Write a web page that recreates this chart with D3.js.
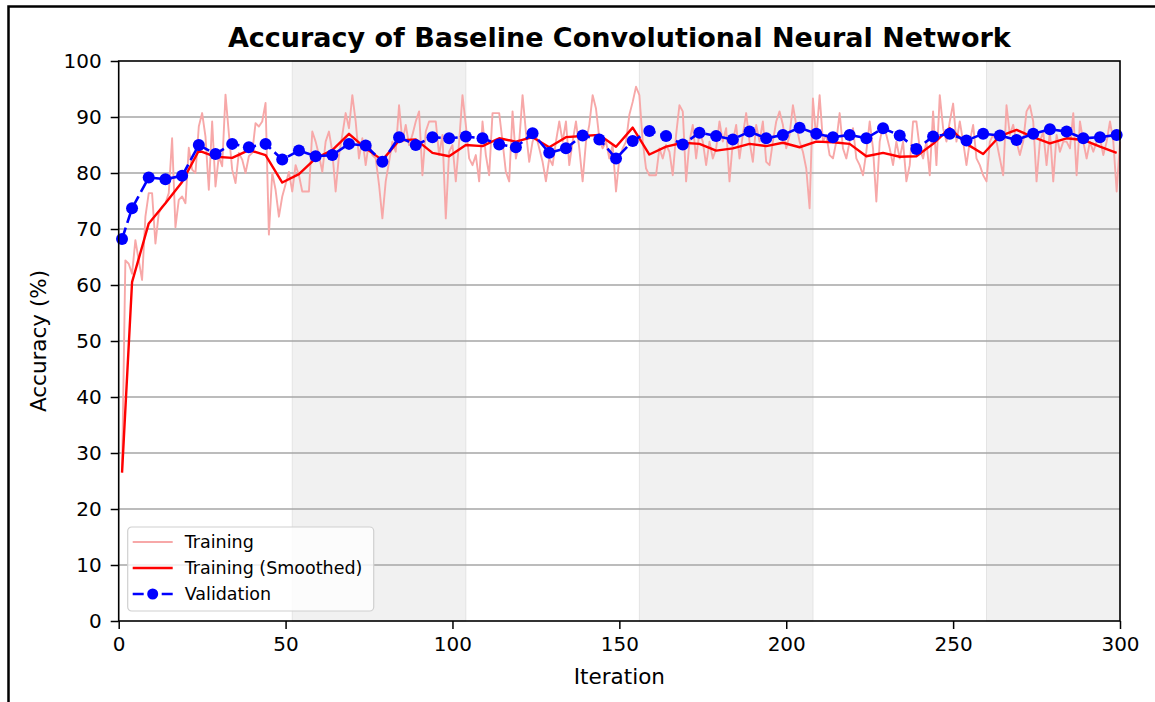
<!DOCTYPE html>
<html>
<head>
<meta charset="utf-8">
<script src="https://cdn.jsdelivr.net/npm/d3@7"></script>
<style>
  body { margin: 0; background: #fff; }
  text { font-family: "DejaVu Sans", sans-serif; }
</style>
</head>
<body>
<div id="chart"></div>
<script>
// Raw training accuracy, one value per iteration (1..300)
var trainAcc = [
  26.5, 64.4, 63.8, 62.0, 68.0, 64.4, 60.9, 72.2, 76.4, 76.4,
  67.4, 72.8, 74.0, 74.6, 76.4, 86.2, 70.3, 75.2, 75.8, 74.6,
  84.5, 80.6, 80.0, 88.3, 90.7, 86.5, 77.0, 89.2, 77.6, 83.0,
  81.2, 94.0, 87.1, 80.6, 78.2, 83.6, 82.4, 80.0, 83.0, 83.6,
  88.9, 88.3, 89.2, 92.5, 69.0, 80.0, 77.0, 72.2, 75.8, 78.0,
  80.2, 76.7, 81.4, 79.6, 76.7, 76.7, 76.7, 87.4, 85.6, 83.2,
  80.2, 85.6, 87.4, 83.8, 76.7, 83.2, 86.8, 90.7, 88.0, 93.9,
  89.2, 82.6, 86.2, 81.4, 85.6, 83.2, 82.6, 77.9, 71.9, 78.5,
  82.0, 85.6, 83.8, 92.1, 85.6, 88.6, 85.0, 86.8, 89.2, 91.0,
  79.6, 87.4, 89.2, 89.2, 89.2, 83.2, 86.8, 71.9, 83.8, 85.0,
  78.5, 85.6, 93.9, 88.6, 82.6, 81.4, 83.2, 78.5, 89.2, 83.2,
  79.6, 90.7, 90.7, 90.7, 85.6, 80.2, 78.5, 91.0, 82.6, 85.6,
  93.9, 87.4, 82.0, 85.6, 86.8, 84.4, 82.0, 78.5, 82.6, 81.4,
  85.6, 89.2, 85.6, 89.2, 81.4, 85.6, 89.2, 84.4, 78.5, 85.6,
  88.6, 93.9, 91.5, 86.2, 84.4, 85.6, 82.6, 85.0, 76.7, 82.6,
  84.4, 85.6, 90.4, 92.7, 95.4, 93.9, 85.6, 80.8, 79.6, 79.6,
  79.6, 84.4, 82.6, 85.0, 83.8, 79.6, 86.8, 92.1, 91.0, 78.5,
  85.6, 88.6, 82.6, 87.4, 85.6, 81.4, 85.6, 82.6, 84.4, 89.2,
  85.6, 88.0, 78.5, 85.6, 88.6, 82.6, 86.8, 90.7, 85.6, 82.0,
  88.6, 85.6, 89.2, 82.0, 81.4, 85.6, 89.2, 91.0, 88.6, 84.4,
  86.8, 92.1, 88.6, 85.6, 83.8, 80.8, 73.7, 93.3, 86.0, 93.9,
  85.6, 86.8, 83.2, 82.6, 85.6, 90.7, 84.4, 82.6, 85.6, 88.0,
  82.6, 81.4, 79.6, 83.8, 89.2, 84.4, 74.9, 85.6, 88.6, 86.8,
  84.4, 81.4, 85.6, 82.6, 85.6, 78.5, 81.4, 89.2, 89.2, 84.4,
  82.6, 85.6, 79.6, 91.0, 81.4, 93.9, 88.0, 85.6, 89.2, 92.4,
  85.6, 89.2, 85.6, 81.4, 85.6, 88.6, 82.6, 81.4, 79.6, 78.5,
  85.6, 86.8, 85.6, 82.6, 79.6, 92.1, 86.8, 88.6, 85.6, 83.2,
  85.6, 91.0, 92.1, 89.2, 78.5, 85.6, 87.4, 81.4, 87.4, 78.5,
  86.8, 83.8, 85.6, 85.6, 84.4, 90.7, 79.6, 89.2, 85.6, 82.6,
  85.6, 83.8, 85.6, 86.2, 83.2, 85.6, 89.2, 85.6, 76.7, 85.6
];

// Iterations where validation / smoothed values are recorded
var valIter = [
  1, 4, 9, 14, 19, 24, 29, 34, 39, 44, 49, 54, 59, 64, 69, 74, 79, 84, 89, 94,
  99, 104, 109, 114, 119, 124, 129, 134, 139, 144, 149, 154, 159, 164, 169, 174, 179, 184, 189, 194,
  199, 204, 209, 214, 219, 224, 229, 234, 239, 244, 249, 254, 259, 264, 269, 274, 279, 284, 289, 294,
  299
];

var smoothAcc = [
  26.5, 60.5, 71.0, 74.6, 78.4, 84.0, 82.9, 82.7, 84.1, 83.2, 78.3, 79.8, 82.6, 84.1, 87.0, 84.4, 82.3, 85.8, 86.0, 83.6,
  83.0, 85.0, 84.8, 86.2, 85.6, 86.4, 84.6, 86.4, 86.6, 86.8, 84.7, 88.1, 83.3, 84.7, 85.4, 85.2, 84.0, 84.4, 85.2, 84.8,
  85.4, 84.6, 85.6, 85.5, 85.2, 83.0, 83.6, 82.9, 83.0, 85.2, 88.0, 85.2, 83.4, 86.6, 87.7, 86.4, 85.3, 86.2, 85.9, 84.7,
  83.6
];

var valAcc = [
  68.2, 73.7, 79.2, 78.9, 79.5, 85.0, 83.4, 85.2, 84.6, 85.2, 82.4, 84.0, 83.0, 83.2, 85.2, 84.9, 82.0, 86.4, 85.0, 86.4,
  86.2, 86.5, 86.2, 85.1, 84.6, 87.1, 83.6, 84.4, 86.7, 86.0, 82.6, 85.7, 87.5, 86.6, 85.1, 87.2, 86.6, 86.0, 87.4, 86.2,
  86.8, 88.1, 87.0, 86.4, 86.8, 86.2, 88.0, 86.7, 84.3, 86.5, 87.0, 85.8, 87.0, 86.7, 85.9, 87.0, 87.8, 87.4, 86.2, 86.4,
  86.8
];

// Shaded epochs (every other epoch of 52 iterations)
var bandStart = [52, 156, 260];
var bandEnd = [104, 208, 300];

var xTicks = [0, 50, 100, 150, 200, 250, 300];
var yTicks = [0, 10, 20, 30, 40, 50, 60, 70, 80, 90, 100];
var legendLabels = ["Training", "Training (Smoothed)", "Validation"];

var svgWidth = 1155;
var svgHeight = 702;

var margin = { top: 61, right: 35, bottom: 81, left: 118.7 };
var chartWidth = svgWidth - margin.left - margin.right;
var chartHeight = svgHeight - margin.top - margin.bottom;

var svg = d3.select("#chart")
  .append("svg")
  .attr("width", svgWidth)
  .attr("height", svgHeight);

svg.append("rect")
  .attr("width", svgWidth)
  .attr("height", svgHeight)
  .attr("fill", "#fff");

// outer frame of the picture (left and top edges)
svg.append("path")
  .attr("d", "M8.5," + svgHeight + "V6.5H" + svgWidth)
  .attr("fill", "none")
  .attr("stroke", "#000")
  .attr("stroke-width", 2.5);

var chartGroup = svg.append("g")
  .attr("transform", `translate(${margin.left}, ${margin.top})`);

var xScale = d3.scaleLinear().domain([0, 300]).range([0, chartWidth]);
var yScale = d3.scaleLinear().domain([0, 100]).range([chartHeight, 0]);

// shaded bands
chartGroup.selectAll(".band")
  .data(bandStart)
  .enter()
  .append("rect")
  .attr("class", "band")
  .attr("x", d => xScale(d))
  .attr("y", 0)
  .attr("width", (d, i) => xScale(bandEnd[i]) - xScale(d))
  .attr("height", chartHeight)
  .attr("fill", "#f1f1f1")
  .attr("stroke", "#e4e4e4")
  .attr("stroke-width", 1);

// horizontal grid
chartGroup.selectAll(".grid")
  .data(yTicks.slice(1, -1))
  .enter()
  .append("line")
  .attr("x1", 0)
  .attr("x2", chartWidth)
  .attr("y1", d => yScale(d))
  .attr("y2", d => yScale(d))
  .attr("stroke", "#a6a6a6")
  .attr("stroke-width", 1.4);

var trainLine = d3.line()
  .x((d, i) => xScale(i + 1))
  .y(d => yScale(d));

var pointLine = d3.line()
  .x((d, i) => xScale(valIter[i]))
  .y(d => yScale(d));

var plot = chartGroup.append("g");

plot.append("path")
  .datum(trainAcc)
  .attr("d", trainLine)
  .attr("fill", "none")
  .attr("stroke", "#f7a8a8")
  .attr("stroke-width", 1.9)
  .attr("stroke-linejoin", "round");

plot.append("path")
  .datum(smoothAcc)
  .attr("d", pointLine)
  .attr("fill", "none")
  .attr("stroke", "#ff0000")
  .attr("stroke-width", 2.4)
  .attr("stroke-linejoin", "round");

plot.append("path")
  .datum(valAcc)
  .attr("d", pointLine)
  .attr("fill", "none")
  .attr("stroke", "#0000ff")
  .attr("stroke-width", 2.6)
  .attr("stroke-dasharray", "12,5");

plot.selectAll(".val")
  .data(valAcc)
  .enter()
  .append("circle")
  .attr("cx", (d, i) => xScale(valIter[i]))
  .attr("cy", d => yScale(d))
  .attr("r", 6)
  .attr("fill", "#0000ff");

// axes
var bottomAxis = d3.axisBottom(xScale).tickValues(xTicks).tickSize(8).tickPadding(8);
var leftAxis = d3.axisLeft(yScale).tickValues(yTicks).tickSize(8).tickPadding(9);

var xAxis = chartGroup.append("g")
  .attr("transform", `translate(0, ${chartHeight})`)
  .call(bottomAxis);

var yAxis = chartGroup.append("g")
  .call(leftAxis);

[xAxis, yAxis].forEach(function(ax) {
  ax.select(".domain").remove();
  ax.selectAll("line").attr("stroke", "#000").attr("stroke-width", 1.5);
  ax.selectAll("text")
    .attr("fill", "#000")
    .style("font-size", "20px")
    .style("font-family", "DejaVu Sans");
});

// spines
chartGroup.append("rect")
  .attr("width", chartWidth)
  .attr("height", chartHeight)
  .attr("fill", "none")
  .attr("stroke", "#000")
  .attr("stroke-width", 1.6);

// title and labels
svg.append("text")
  .attr("x", margin.left + chartWidth / 2)
  .attr("y", 47)
  .attr("text-anchor", "middle")
  .style("font-size", "27px")
  .style("font-weight", "bold")
  .text("Accuracy of Baseline Convolutional Neural Network");

svg.append("text")
  .attr("x", margin.left + chartWidth / 2)
  .attr("y", 684)
  .attr("text-anchor", "middle")
  .style("font-size", "21.5px")
  .text("Iteration");

svg.append("text")
  .attr("transform", "rotate(-90)")
  .attr("x", -(margin.top + chartHeight / 2))
  .attr("y", 46)
  .attr("text-anchor", "middle")
  .style("font-size", "21.5px")
  .text("Accuracy (%)");

// legend
var legend = chartGroup.append("g")
  .attr("transform", "translate(9, 466)");

legend.append("rect")
  .attr("width", 246)
  .attr("height", 84)
  .attr("rx", 4)
  .attr("fill", "#fff")
  .attr("fill-opacity", 0.8)
  .attr("stroke", "#d0d0d0")
  .attr("stroke-width", 1.2);

var legendStyles = [
  { color: "#f7a8a8", width: 2, dash: null, marker: false },
  { color: "#ff0000", width: 2.4, dash: null, marker: false },
  { color: "#0000ff", width: 2.6, dash: "11,18", marker: true }
];

legendLabels.forEach(function(label, i) {
  var row = legend.append("g")
    .attr("transform", `translate(0, ${15 + i * 26})`);
  var st = legendStyles[i];
  row.append("line")
    .attr("x1", 5)
    .attr("x2", 45)
    .attr("stroke", st.color)
    .attr("stroke-width", st.width)
    .attr("stroke-dasharray", st.dash);
  if (st.marker) {
    row.append("circle")
      .attr("cx", 25)
      .attr("r", 5.5)
      .attr("fill", st.color);
  }
  row.append("text")
    .attr("x", 57)
    .attr("y", 6)
    .style("font-size", "17.5px")
    .text(label);
});
</script>
</body>
</html>
